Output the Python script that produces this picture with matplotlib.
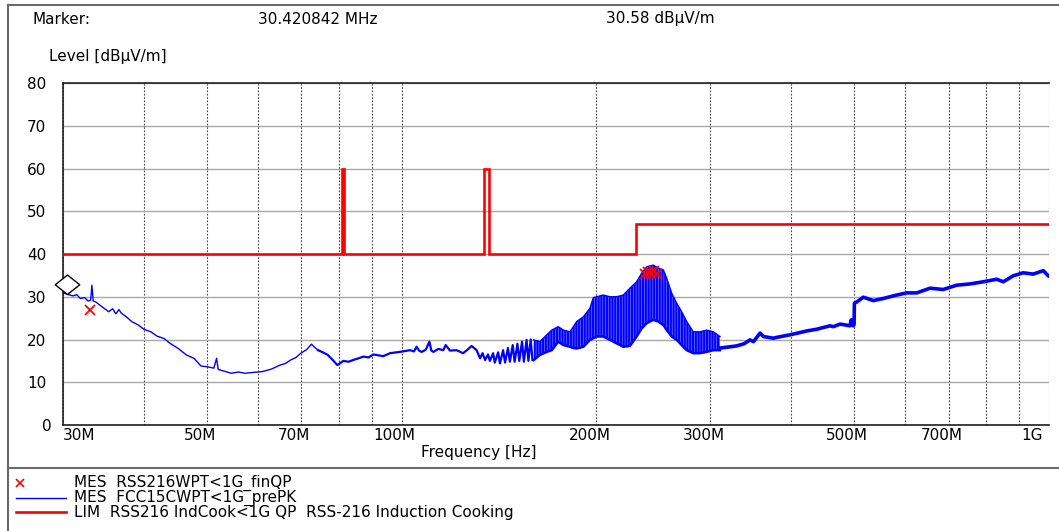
import matplotlib
matplotlib.use("Agg")
import matplotlib.pyplot as plt
import numpy as np
from matplotlib.lines import Line2D
from matplotlib.path import Path
from matplotlib.transforms import ScaledTranslation

plt.rcParams["font.family"] = ["DejaVu Sans"]
plt.rcParams["font.size"] = 11
plt.rcParams["hatch.linewidth"] = 1.5

# ---- data (frequency in MHz, level in dBuV/m) ----
marker_freq = 30.420842
marker_level = 30.58

trace_freq = [
    30.0, 30.4, 31.1, 31.5, 31.9, 32.4, 32.8, 33.1, 33.25, 33.4, 33.7, 34.5,
    35.3, 35.8, 36.2, 36.6, 36.9, 37.5, 38.3, 39.2, 40.0, 41.0, 41.9, 43.0,
    43.9, 45.2, 46.5, 47.8, 49.0, 50.2, 51.3, 51.8, 52.1, 53.2, 54.6, 56.0,
    57.3, 59.0, 61.0, 63.0, 64.9, 66.2, 67.4, 68.7, 69.9, 71.3, 72.6, 73.4,
    74.3, 75.6, 76.9, 78.3, 79.6, 81.3, 82.8, 84.2, 85.8, 87.3, 88.9, 90.5,
    92.1, 93.7, 96.0, 99.4, 101.2, 103.1, 104.5, 105.5, 106.4, 107.4, 109.0,
    110.4, 111.2, 112.0, 114.0, 116.0, 117.0, 118.8, 121.6, 124.5, 126.4,
    128.3, 130.6, 132.2, 133.4, 134.6, 136.0, 136.9, 138.5, 139.3, 141.0,
    141.9, 143.5, 144.5, 146.0, 147.0, 148.5, 149.5, 151.0, 152.0, 153.5,
    154.5, 156.0, 157.0, 158.3, 159.3,
    310.3, 318.0, 329.4, 338.0, 345.3, 349.6, 357.9, 362.1, 375.1, 379.8,
    398.2, 417.3, 422.4, 437.7, 442.8, 458.9, 464.2, 475.5, 485.0, 492.6,
    495.0, 498.4, 500.0, 500.5, 505.0, 516.6, 535.3, 554.8, 581.8, 602.8,
    624.8, 654.9, 686.4, 720.1, 755.1, 791.5, 830.2, 849.9, 880.5, 912.3,
    945.4, 979.9, 997.4, 1000.0,
]
trace_level = [
    31.0, 30.6, 30.2, 30.5, 29.6, 29.8, 29.0, 29.2, 32.7, 29.0, 28.8, 27.6,
    26.5, 27.2, 26.0, 27.0, 26.2, 25.4, 24.2, 23.4, 22.4, 21.8, 20.8, 20.2,
    19.1, 17.9, 16.4, 15.6, 13.8, 13.6, 13.3, 15.6, 13.0, 12.6, 12.1, 12.4,
    12.1, 12.3, 12.5, 13.1, 14.0, 14.4, 15.2, 15.8, 16.8, 17.6, 18.9, 18.2,
    17.5, 17.0, 16.4, 15.2, 14.0, 15.0, 14.8, 15.2, 15.6, 16.0, 15.8, 16.5,
    16.3, 16.1, 16.8, 17.1, 17.3, 17.5, 17.2, 18.3, 17.4, 17.1, 17.6,
    19.5, 17.4, 17.1, 17.8, 17.5, 18.7, 17.4, 17.5, 16.8, 17.6,
    18.5, 17.5, 15.6, 16.8, 15.2, 16.5, 15.0, 16.8, 14.6, 17.0,
    14.4, 17.5, 14.6, 18.0, 14.8, 18.7, 14.8, 19.0, 15.0, 19.5,
    14.8, 19.9, 15.0, 20.0, 15.2,
    18.0, 18.2, 18.5, 19.0, 19.9, 19.5, 21.5, 20.7, 20.3, 20.5,
    21.1, 21.8, 22.0, 22.4, 22.6, 23.2, 23.0, 23.6, 23.4, 23.2,
    24.6, 23.2, 23.5, 28.5, 28.8, 29.9, 29.1, 29.6, 30.4, 30.9,
    30.9, 32.0, 31.7, 32.7, 33.0, 33.5, 34.1, 33.5, 34.9, 35.6,
    35.3, 36.1, 34.9, 34.8,
]

# comb region 160-310 MHz: upper / lower envelope of the dense peaks
comb_freq = [
    160.0, 163.6, 167.6, 170.6, 174.6, 177.8, 182.0, 184.2, 186.4, 190.9,
    195.4, 197.8, 200.2, 204.9, 209.9, 214.9, 220.0, 225.3, 230.7, 234.9,
    239.1, 244.8, 249.2, 253.7, 256.8, 261.4, 266.1, 270.8, 275.7, 282.2,
    289.0, 296.0, 303.0, 310.3,
]
comb_hi = [
    19.9, 19.5, 21.1, 22.2, 23.0, 22.2, 21.8, 23.0, 24.2, 25.3,
    27.3, 29.8, 30.0, 30.4, 30.0, 30.0, 30.4, 32.0, 33.5, 35.5,
    37.0, 37.4, 36.7, 36.3, 34.3, 30.8, 28.5, 26.5, 24.2, 21.8,
    21.8, 22.2, 21.8, 20.7,
]
comb_lo = [
    15.2, 16.4, 17.1, 17.5, 19.5, 18.7, 18.3, 18.0, 17.9, 18.3,
    19.9, 20.3, 20.7, 20.7, 19.9, 19.1, 18.3, 18.5, 20.7, 22.6,
    23.8, 24.6, 24.2, 23.4, 22.2, 20.7, 19.9, 18.7, 17.5, 16.8,
    16.8, 17.1, 17.5, 17.5,
]

# final QP measurements
qp_freq = [33.0, 237.7, 240.2, 242.8, 245.4, 248.0]
qp_level = [27.0, 35.3, 35.8, 35.5, 36.0, 35.4]

# limit line (stairs)
limit_edges = [30.0, 80.8, 81.6, 134.3, 136.4, 230.0, 1000.0]
limit_values = [40, 60, 40, 60, 40, 47]

grid_freq = [30, 40, 50, 60, 70, 80, 90, 100, 200, 300, 400, 500, 600,
             700, 800, 900, 1000]
grid_labels = ["30M", "", "50M", "", "70M", "", "", "100M", "200M", "300M",
               "", "500M", "", "700M", "", "", "1G"]
level_ticks = list(range(0, 81, 10))

BLUE = "#0000ff"
RED = "#ff0000"

W, H = 1059, 531


def fx(px):
    return px / W


def fy(py):
    return 1 - py / H


fig = plt.figure(figsize=(W / 100, H / 100), dpi=100)
ax = fig.add_axes([fx(63), fy(425), 986 / W, 342 / H])
ax.set_xscale("log")
ax.set_xlim(30, 1000)
ax.set_ylim(0, 80)

ax.set_xticks(grid_freq, labels=grid_labels)
ax.xaxis.set_minor_locator(matplotlib.ticker.NullLocator())
ax.set_yticks(level_ticks)
ax.tick_params(length=0)
ax.tick_params(axis="x", pad=2)
ax.tick_params(axis="y", pad=12)
ax.grid(True, axis="x", color="#404040", lw=0.8, ls=(0, (1.5, 1.5)))
ax.grid(True, axis="y", color="#a8a8a8", lw=1.0)
for side in ("left", "bottom", "top"):
    ax.spines[side].set_color("#202020")
    ax.spines[side].set_linewidth(1.2)
ax.spines["right"].set_visible(False)

xlabs = ax.get_xticklabels()
for lab in xlabs:
    lab.set_transform(lab.get_transform()
                      + ScaledTranslation(-0.07, 0, fig.dpi_scale_trans))
xlabs[0].set_transform(ax.get_xaxis_text1_transform(2)[0])
xlabs[0].set_ha("left")
xlabs[-1].set_ha("right")
xlabs[-1].set_transform(xlabs[-1].get_transform()
                        + ScaledTranslation(0.01, 0, fig.dpi_scale_trans))
ylabs = ax.get_yticklabels()
ylabs[0].set_transform(ylabs[0].get_transform()
                       + ScaledTranslation(0.05, 0, fig.dpi_scale_trans))

# limit
ax.stairs(limit_values, limit_edges, baseline=None, color=RED, lw=1.9,
          zorder=3)

# measurement trace
f = np.array(trace_freq)
v = np.array(trace_level)
low = f <= 74.3
mid = (f >= 74.3) & (f <= 160)
high = f >= 300
ax.plot(f[low], v[low], color=BLUE, lw=1.0, zorder=4)
ax.plot(f[mid], v[mid], color=BLUE, lw=1.6, zorder=4)
# dense comb: striped band between the envelopes
ax.fill_between(comb_freq, comb_lo, comb_hi, facecolor="#7878ff",
                edgecolor=BLUE, hatch="||||||", lw=0, zorder=4)
ax.plot(comb_freq, comb_hi, color=BLUE, lw=1.0, zorder=4)
ax.plot(comb_freq, comb_lo, color=BLUE, lw=1.8, zorder=4)
ax.plot(f[high], v[high], color=BLUE, lw=2.6, zorder=4)

ax.plot(qp_freq, qp_level, ls="none", marker="x", color=RED, ms=7, mew=1.3,
        zorder=5)

diamond = Path([(0, 0), (1.26, 1), (0, 2), (-1.26, 1), (0, 0)],
               [Path.MOVETO, Path.LINETO, Path.LINETO, Path.LINETO,
                Path.CLOSEPOLY])
ax.plot([marker_freq], [marker_level], ls="none", marker=diamond, ms=28,
        mfc="white", mec="black", mew=1.0, zorder=6, clip_on=False)

# header and labels
fig.text(fx(62), fy(19), "Marker:", va="center", ha="center")
fig.text(fx(318), fy(19), f"{marker_freq:.6f} MHz", va="center", ha="center")
fig.text(fx(660), fy(19), f"{marker_level:.2f} dBµV/m", va="center",
         ha="center")
fig.text(fx(108), fy(57), "Level [dBµV/m]", va="center", ha="center")
fig.text(fx(479), fy(452), "Frequency [Hz]", va="center", ha="center")

# frame and legend separator
frame = dict(color="#6a6a6a", lw=1.5, transform=fig.transFigure)
fig.add_artist(Line2D([fx(8), 1], [fy(5), fy(5)], **frame))
fig.add_artist(Line2D([fx(8), fx(8)], [fy(5), 0], **frame))
fig.add_artist(Line2D([fx(8), 1], [fy(468), fy(468)], **frame))

legend_rows = [
    ("MES  RSS216WPT<1G_finQP", 483),
    ("MES  FCC15CWPT<1G_prePK", 498),
    ("LIM  RSS216 IndCook<1G QP  RSS-216 Induction Cooking", 512),
]
fig.add_artist(Line2D([fx(20)], [fy(483)], ls="none", marker="x", color=RED,
                      ms=6, mew=1.2, transform=fig.transFigure))
fig.add_artist(Line2D([fx(16), fx(66)], [fy(498)] * 2, color=BLUE, lw=1.0,
                      transform=fig.transFigure))
fig.add_artist(Line2D([fx(16), fx(66)], [fy(512)] * 2, color=RED, lw=1.9,
                      transform=fig.transFigure))
for text, row in legend_rows:
    fig.text(fx(74), fy(row), text, va="center")

fig.savefig("out.png", dpi=100)
